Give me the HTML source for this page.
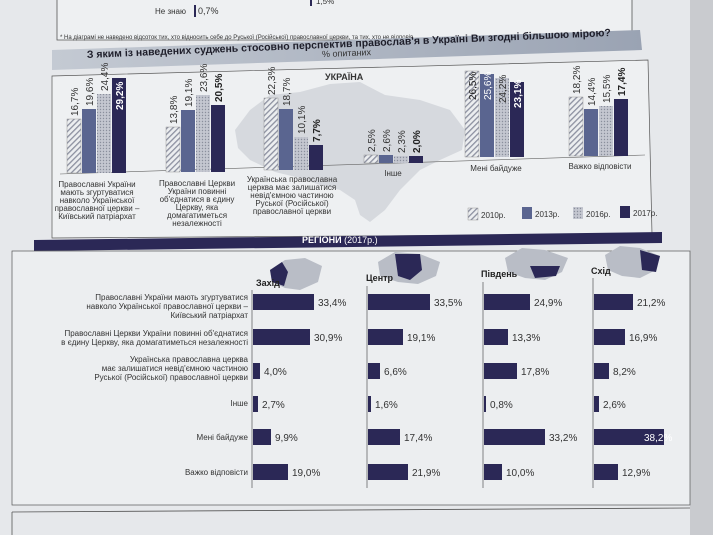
<!DOCTYPE html>
<html><head><meta charset="utf-8"><style>
body{margin:0;background:#e4e6e9;}
svg{display:block;font-family:"Liberation Sans Narrow","Liberation Sans",sans-serif;}
</style></head><body>
<svg width="713" height="535" viewBox="0 0 713 535" xmlns="http://www.w3.org/2000/svg">
<defs>
<pattern id="hatch" width="4" height="4" patternUnits="userSpaceOnUse" patternTransform="rotate(45)"><rect width="4" height="4" fill="#eceef0"/><rect width="1.3" height="4" fill="#8c90a0"/></pattern>
<pattern id="dots" width="3" height="3" patternUnits="userSpaceOnUse"><rect width="3" height="3" fill="#c4c7d0"/><circle cx="1.5" cy="1.5" r="0.7" fill="#8a8e9c"/></pattern>
<linearGradient id="band" x1="0" x2="1"><stop offset="0" stop-color="#c4cad3"/><stop offset="1" stop-color="#9aa3b3"/></linearGradient>
</defs>
<rect width="713" height="535" fill="#e6e8eb"/>
<rect x="690" y="0" width="23" height="535" fill="#c9cbcf"/>
<path d="M57 0 V40 H632 V0" fill="#eef0f2" stroke="#555" stroke-width="0.8"/>
<text x="155" y="14" font-size="8" fill="#333">Не знаю</text>
<rect x="194" y="5" width="2" height="12" fill="#2b2856"/>
<text x="198" y="14" font-size="9" fill="#333">0,7%</text>
<rect x="310" y="0" width="2" height="6" fill="#2b2856"/>
<text x="316" y="4" font-size="8" fill="#333">1,5%</text>
<text x="60" y="39" font-size="6" fill="#333">*  На діаграмі не наведено відсоток тих, хто відносить себе до Руської (Російської) православної церкви, та тих, хто не відповів.</text>
<polygon points="52,50 640,30 642,50 52,70" fill="url(#band)"/>
<g transform="rotate(-2.4 87 58)">
<text x="87" y="58" font-size="10.5" font-weight="bold" fill="#1e1e2a" font-family="Liberation Sans,sans-serif">З яким із наведених суджень стосовно перспектив православ'я в Україні Ви згодні більшою мірою?</text>
<text x="322" y="67" font-size="9" fill="#333">% опитаних</text>
</g>
<polygon points="52,76 648,60 652,234 52,238" fill="#eef0f2" stroke="#555" stroke-width="0.7"/>
<path d="M235 130 L250 110 L270 95 L300 92 L330 84 L360 82 L385 95 L420 100 L450 110 L465 130 L462 150 L440 160 L420 170 L400 190 L385 210 L370 222 L360 215 L355 200 L340 190 L320 185 L300 178 L275 172 L250 160 L238 148 Z" fill="#d6d9de"/>
<text x="325" y="80" font-size="9" font-weight="bold" fill="#333">УКРАЇНА</text>
<line x1="60" y1="174" x2="645" y2="155" stroke="#666" stroke-width="0.6"/>
<rect x="67" y="119" width="14" height="54" fill="url(#hatch)" stroke="#888" stroke-width="0.4"/>
<rect x="82" y="109" width="14" height="64" fill="#5a6590"/>
<rect x="97" y="94" width="14" height="79" fill="url(#dots)"/>
<rect x="112" y="78" width="14" height="95" fill="#2b2856"/>
<text transform="translate(78,116) rotate(-90)" font-size="10" fill="#333">16,7%</text>
<text transform="translate(93,106) rotate(-90)" font-size="10" fill="#333">19,6%</text>
<text transform="translate(108,91) rotate(-90)" font-size="10" fill="#333">24,4%</text>
<text transform="translate(123,110) rotate(-90)" font-size="10" font-weight="bold" fill="#fff">29,2%</text>
<rect x="166" y="127" width="14" height="45" fill="url(#hatch)" stroke="#888" stroke-width="0.4"/>
<rect x="181" y="110" width="14" height="62" fill="#5a6590"/>
<rect x="196" y="95" width="14" height="77" fill="url(#dots)"/>
<rect x="211" y="105" width="14" height="67" fill="#2b2856"/>
<text transform="translate(177,124) rotate(-90)" font-size="10" fill="#333">13,8%</text>
<text transform="translate(192,107) rotate(-90)" font-size="10" fill="#333">19,1%</text>
<text transform="translate(207,92) rotate(-90)" font-size="10" fill="#333">23,6%</text>
<text transform="translate(222,102) rotate(-90)" font-size="10" font-weight="bold" fill="#222">20,5%</text>
<rect x="264" y="98" width="14" height="72" fill="url(#hatch)" stroke="#888" stroke-width="0.4"/>
<rect x="279" y="109" width="14" height="61" fill="#5a6590"/>
<rect x="294" y="137" width="14" height="33" fill="url(#dots)"/>
<rect x="309" y="145" width="14" height="25" fill="#2b2856"/>
<text transform="translate(275,95) rotate(-90)" font-size="10" fill="#333">22,3%</text>
<text transform="translate(290,106) rotate(-90)" font-size="10" fill="#333">18,7%</text>
<text transform="translate(305,134) rotate(-90)" font-size="10" fill="#333">10,1%</text>
<text transform="translate(320,142) rotate(-90)" font-size="10" font-weight="bold" fill="#222">7,7%</text>
<rect x="364" y="155" width="14" height="8" fill="url(#hatch)" stroke="#888" stroke-width="0.4"/>
<rect x="379" y="155" width="14" height="8" fill="#5a6590"/>
<rect x="394" y="156" width="14" height="7" fill="url(#dots)"/>
<rect x="409" y="156" width="14" height="7" fill="#2b2856"/>
<text transform="translate(375,152) rotate(-90)" font-size="10" fill="#333">2,5%</text>
<text transform="translate(390,152) rotate(-90)" font-size="10" fill="#333">2,6%</text>
<text transform="translate(405,153) rotate(-90)" font-size="10" fill="#333">2,3%</text>
<text transform="translate(420,153) rotate(-90)" font-size="10" font-weight="bold" fill="#222">2,0%</text>
<rect x="465" y="71" width="14" height="86" fill="url(#hatch)" stroke="#888" stroke-width="0.4"/>
<rect x="480" y="74" width="14" height="83" fill="#5a6590"/>
<rect x="495" y="78" width="14" height="79" fill="url(#dots)"/>
<rect x="510" y="82" width="14" height="75" fill="#2b2856"/>
<text transform="translate(476,100) rotate(-90)" font-size="10" fill="#222">26,5%</text>
<text transform="translate(491,100) rotate(-90)" font-size="10" fill="#fff">25,6%</text>
<text transform="translate(506,103) rotate(-90)" font-size="10" fill="#333">24,2%</text>
<text transform="translate(521,108) rotate(-90)" font-size="10" font-weight="bold" fill="#fff">23,1%</text>
<rect x="569" y="97" width="14" height="59" fill="url(#hatch)" stroke="#888" stroke-width="0.4"/>
<rect x="584" y="109" width="14" height="47" fill="#5a6590"/>
<rect x="599" y="106" width="14" height="50" fill="url(#dots)"/>
<rect x="614" y="99" width="14" height="57" fill="#2b2856"/>
<text transform="translate(580,94) rotate(-90)" font-size="10" fill="#333">18,2%</text>
<text transform="translate(595,106) rotate(-90)" font-size="10" fill="#333">14,4%</text>
<text transform="translate(610,103) rotate(-90)" font-size="10" fill="#333">15,5%</text>
<text transform="translate(625,96) rotate(-90)" font-size="10" font-weight="bold" fill="#222">17,4%</text>
<g font-size="8" fill="#333" text-anchor="middle">
<text x="97" y="187">Православні України</text><text x="97" y="195">мають згуртуватися</text><text x="97" y="203">навколо Української</text><text x="97" y="211">православної церкви –</text><text x="97" y="219">Київський патріархат</text>
<text x="197" y="186">Православні Церкви</text><text x="197" y="194">України повинні</text><text x="197" y="202">об'єднатися в єдину</text><text x="197" y="210">Церкву, яка</text><text x="197" y="218">домагатиметься</text><text x="197" y="226">незалежності</text>
<text x="292" y="182">Українська православна</text><text x="292" y="190">церква має залишатися</text><text x="292" y="198">невід'ємною частиною</text><text x="292" y="206">Руської (Російської)</text><text x="292" y="214">православної церкви</text>
<text x="393" y="176">Інше</text>
<text x="496" y="171">Мені байдуже</text>
<text x="600" y="169">Важко відповісти</text>
</g>
<rect x="468" y="208" width="10" height="12" fill="url(#hatch)" stroke="#888" stroke-width="0.4"/><text x="481" y="218" font-size="8" fill="#333">2010р.</text>
<rect x="522" y="207" width="10" height="12" fill="#5a6590"/><text x="535" y="217" font-size="8" fill="#333">2013р.</text>
<rect x="573" y="207" width="10" height="12" fill="url(#dots)"/><text x="586" y="217" font-size="8" fill="#333">2016р.</text>
<rect x="620" y="206" width="10" height="12" fill="#2b2856"/><text x="633" y="216" font-size="8" fill="#333">2017р.</text>
<polygon points="34,240 662,232 662,243 34,251" fill="#2b2856"/>
<text x="302" y="243" font-size="9" fill="#fff"><tspan font-weight="bold">РЕГІОНИ</tspan> (2017р.)</text>
<rect x="12" y="251" width="678" height="254" fill="#eceef0" stroke="#555" stroke-width="0.7"/>
<line x1="12" y1="512" x2="690" y2="508" stroke="#555" stroke-width="0.8"/>
<line x1="12" y1="512" x2="12" y2="535" stroke="#555" stroke-width="0.8"/>
<g fill="#b9bdc6">
<path d="M270 270 L285 260 L305 258 L322 266 L318 282 L300 290 L285 288 L272 282 Z"/>
<path d="M378 262 L395 252 L420 254 L440 262 L436 276 L418 284 L398 282 L380 276 Z"/>
<path d="M505 258 L522 248 L545 250 L568 258 L562 272 L545 280 L525 278 L508 272 Z"/>
<path d="M605 255 L620 246 L640 248 L660 256 L656 270 L640 278 L622 276 L608 270 Z"/>
</g>
<g fill="#2b2856">
<path d="M270 270 L282 262 L288 272 L284 286 L272 282 Z"/>
<path d="M395 254 L420 254 L422 270 L410 280 L398 276 Z"/>
<path d="M530 266 L560 266 L556 276 L535 278 Z"/>
<path d="M640 250 L660 256 L656 272 L642 270 Z"/>
</g>
<g font-size="9" font-weight="bold" fill="#222">
<text x="256" y="286">Захід</text><text x="366" y="281">Центр</text><text x="481" y="277">Південь</text><text x="591" y="274">Схід</text>
</g>
<g font-size="8" fill="#333" text-anchor="end">
<text x="248" y="300">Православні України мають згуртуватися</text><text x="248" y="309">навколо Української православної церкви –</text><text x="248" y="318">Київський патріархат</text>
<text x="248" y="336">Православні Церкви України повинні об'єднатися</text><text x="248" y="345">в єдину Церкву, яка домагатиметься незалежності</text>
<text x="248" y="362">Українська православна церква</text><text x="248" y="371">має залишатися невід'ємною частиною</text><text x="248" y="380">Руської (Російської) православної церкви</text>
<text x="248" y="406">Інше</text>
<text x="248" y="440">Мені байдуже</text>
<text x="248" y="475">Важко відповісти</text>
</g>
<g stroke="#555" stroke-width="0.7">
<line x1="252" y1="290" x2="252" y2="488"/><line x1="367" y1="286" x2="367" y2="488"/><line x1="483" y1="282" x2="483" y2="488"/><line x1="593" y1="278" x2="593" y2="488"/>
</g>
<g fill="#2b2856">
<rect x="253" y="294" width="61" height="16"/><rect x="253" y="329" width="57" height="16"/><rect x="253" y="363" width="7" height="16"/><rect x="253" y="396" width="5" height="16"/><rect x="253" y="429" width="18" height="16"/><rect x="253" y="464" width="35" height="16"/>
<rect x="368" y="294" width="62" height="16"/><rect x="368" y="329" width="35" height="16"/><rect x="368" y="363" width="12" height="16"/><rect x="368" y="396" width="3" height="16"/><rect x="368" y="429" width="32" height="16"/><rect x="368" y="464" width="40" height="16"/>
<rect x="484" y="294" width="46" height="16"/><rect x="484" y="329" width="24" height="16"/><rect x="484" y="363" width="33" height="16"/><rect x="484" y="396" width="2" height="16"/><rect x="484" y="429" width="61" height="16"/><rect x="484" y="464" width="18" height="16"/>
<rect x="594" y="294" width="39" height="16"/><rect x="594" y="329" width="31" height="16"/><rect x="594" y="363" width="15" height="16"/><rect x="594" y="396" width="5" height="16"/><rect x="594" y="429" width="70" height="16"/><rect x="594" y="464" width="24" height="16"/>
</g>
<g font-size="10" fill="#333">
<text x="318" y="306">33,4%</text><text x="314" y="341">30,9%</text><text x="264" y="375">4,0%</text><text x="262" y="408">2,7%</text><text x="275" y="441">9,9%</text><text x="292" y="476">19,0%</text>
<text x="434" y="306">33,5%</text><text x="407" y="341">19,1%</text><text x="384" y="375">6,6%</text><text x="375" y="408">1,6%</text><text x="404" y="441">17,4%</text><text x="412" y="476">21,9%</text>
<text x="534" y="306">24,9%</text><text x="512" y="341">13,3%</text><text x="521" y="375">17,8%</text><text x="490" y="408">0,8%</text><text x="549" y="441">33,2%</text><text x="506" y="476">10,0%</text>
<text x="637" y="306">21,2%</text><text x="629" y="341">16,9%</text><text x="613" y="375">8,2%</text><text x="603" y="408">2,6%</text><text x="644" y="441" fill="#fff">38,2%</text><text x="622" y="476">12,9%</text>
</g>
</svg>
</body></html>
